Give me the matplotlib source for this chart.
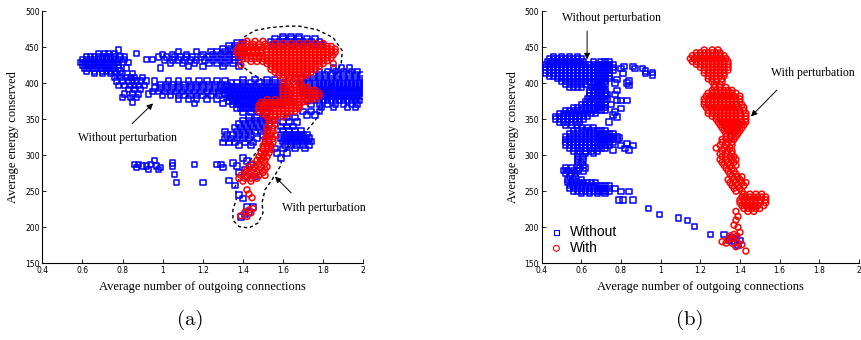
"""
Energy conserved vs outgoing connections, with / without perturbation
(two scatter panels)
"""

import matplotlib
matplotlib.use('Agg')
import matplotlib.pyplot as plt
from matplotlib.ticker import FuncFormatter


# DATA : rows of (y, [x, x, ...])

# panel (a) - without perturbation
a_without = [
    # left cluster
    (446, [0.78]),
    (441, [0.68, 0.71, 0.73, 0.76, 0.87]),
    (437, [0.62, 0.64, 0.66, 0.68, 0.70, 0.72, 0.74, 0.76, 0.79, 0.81]),
    (433, [0.60, 0.62, 0.64, 0.66, 0.68, 0.70, 0.72, 0.74, 0.76, 0.78, 0.81, 0.92, 0.95]),
    (429, [0.59, 0.61, 0.63, 0.65, 0.67, 0.69, 0.71, 0.73, 0.75, 0.77, 0.80, 0.83]),
    (425, [0.60, 0.62, 0.64, 0.66, 0.68, 0.70, 0.72, 0.74, 0.76, 0.78]),
    (421, [0.61, 0.63, 0.65, 0.67, 0.69, 0.71, 0.73, 0.75, 0.78, 0.82, 0.99]),
    (417, [0.62, 0.66, 0.70, 0.72, 0.74, 0.76, 0.79]),
    (413, [0.66, 0.70, 0.74, 0.77, 0.80, 0.85]),
    (408, [0.76, 0.79, 0.82, 0.84, 0.86, 0.90]),
    (403, [0.77, 0.80, 0.83, 0.85, 0.87, 0.89, 0.92, 0.96]),
    (397, [0.78, 0.81, 0.84, 0.86, 0.88, 0.91]),
    (391, [0.83, 0.86, 0.89]),
    (385, [0.81, 0.85, 0.88, 0.93]),
    (380, [0.80, 0.84, 0.87]),
    (374, [0.85]),
    # upper band
    (456, [1.37, 1.40]),
    (452, [1.33, 1.36, 1.39]),
    (448, [1.30, 1.34, 1.37, 1.40]),
    (444, [1.08, 1.17, 1.24, 1.27, 1.31, 1.35, 1.38]),
    (440, [1.00, 1.05, 1.12, 1.20, 1.25, 1.29, 1.33, 1.36, 1.39]),
    (436, [0.98, 1.02, 1.06, 1.09, 1.12, 1.15, 1.19, 1.23, 1.27, 1.31, 1.35, 1.38]),
    (432, [1.01, 1.05, 1.08, 1.11, 1.14, 1.17, 1.21, 1.25, 1.29, 1.33, 1.36]),
    (428, [1.04, 1.10, 1.16, 1.23, 1.27, 1.31, 1.35]),
    (423, [1.13, 1.20, 1.30, 1.38]),
    # middle band
    (403, [1.03, 1.08, 1.13, 1.18, 1.22, 1.27, 1.31]),
    (398, [0.99, 1.02, 1.05, 1.08, 1.11, 1.14, 1.17, 1.20, 1.23, 1.26, 1.29, 1.32]),
    (393, [0.96, 0.99, 1.02, 1.05, 1.08, 1.11, 1.14, 1.17, 1.20, 1.23, 1.26, 1.29]),
    (388, [0.95, 0.98, 1.01, 1.04, 1.07, 1.10, 1.13, 1.16, 1.19, 1.22, 1.25, 1.28]),
    (383, [1.00, 1.04, 1.08, 1.11, 1.14, 1.17, 1.20, 1.24, 1.28]),
    (378, [1.08, 1.13, 1.17, 1.22, 1.27]),
    (372, [1.16, 1.30]),
    # dense centre
    (405, [1.40, 1.46, 1.52, 1.56]),
    (400, [1.34, 1.37, 1.40, 1.44, 1.48, 1.52, 1.56, 1.60]),
    (395, [1.31, 1.33, 1.35, 1.37, 1.39, 1.41, 1.43, 1.45, 1.47, 1.49, 1.51, 1.53, 1.55, 1.57, 1.59, 1.61]),
    (390, [1.30, 1.32, 1.34, 1.36, 1.38, 1.40, 1.42, 1.44, 1.46, 1.48, 1.50, 1.52, 1.54, 1.56, 1.58, 1.60, 1.62]),
    (385, [1.31, 1.33, 1.35, 1.37, 1.39, 1.41, 1.43, 1.45, 1.47, 1.49, 1.51, 1.53, 1.55, 1.57, 1.59, 1.61, 1.63]),
    (380, [1.32, 1.34, 1.36, 1.38, 1.40, 1.42, 1.44, 1.46, 1.48, 1.50, 1.52, 1.54, 1.56, 1.58, 1.60, 1.62]),
    (375, [1.33, 1.35, 1.37, 1.39, 1.41, 1.43, 1.45, 1.47, 1.49, 1.51, 1.53, 1.55, 1.57, 1.59, 1.61]),
    (370, [1.35, 1.37, 1.39, 1.41, 1.43, 1.45, 1.47, 1.49, 1.51, 1.53, 1.55, 1.57, 1.59]),
    (365, [1.37, 1.39, 1.41, 1.43, 1.45, 1.47, 1.49, 1.51, 1.53]),
    (360, [1.40, 1.44, 1.48, 1.52]),
    # right cluster
    (421, [1.85, 1.89, 1.93]),
    (416, [1.78, 1.82, 1.86, 1.90, 1.94, 1.97]),
    (411, [1.72, 1.75, 1.78, 1.81, 1.84, 1.87, 1.90, 1.93, 1.96, 1.99]),
    (406, [1.66, 1.69, 1.72, 1.75, 1.78, 1.81, 1.84, 1.87, 1.90, 1.93, 1.96, 1.99]),
    (401, [1.70, 1.73, 1.76, 1.78, 1.80, 1.82, 1.84, 1.86, 1.88, 1.90, 1.92, 1.94, 1.96, 1.98, 2.00]),
    (396, [1.70, 1.73, 1.76, 1.78, 1.80, 1.82, 1.84, 1.86, 1.88, 1.90, 1.92, 1.94, 1.96, 1.98, 2.00]),
    (391, [1.71, 1.74, 1.77, 1.79, 1.81, 1.83, 1.85, 1.87, 1.89, 1.91, 1.93, 1.95, 1.97, 1.99]),
    (386, [1.70, 1.73, 1.76, 1.78, 1.80, 1.82, 1.84, 1.86, 1.88, 1.90, 1.92, 1.94, 1.96, 1.98, 2.00]),
    (381, [1.71, 1.74, 1.77, 1.79, 1.81, 1.83, 1.85, 1.87, 1.89, 1.91, 1.93, 1.95, 1.97, 1.99]),
    (376, [1.72, 1.75, 1.78, 1.80, 1.82, 1.84, 1.86, 1.88, 1.90, 1.92, 1.94, 1.96, 1.98]),
    (371, [1.74, 1.78, 1.82, 1.86, 1.90, 1.94, 1.97]),
    (366, [1.79, 1.85, 1.92, 1.96]),
    (361, [1.70, 1.74, 1.78]),
    (356, [1.72, 1.76]),
    # above the red cloud
    (465, [1.60, 1.64, 1.68]),
    (461, [1.56, 1.60, 1.64, 1.68, 1.72, 1.76]),
    (457, [1.54, 1.58, 1.62, 1.66, 1.70, 1.74, 1.78]),
    (453, [1.55, 1.60, 1.65, 1.70, 1.75, 1.79]),
    # lower middle
    (353, [1.43, 1.47, 1.51]),
    (348, [1.40, 1.43, 1.46, 1.49, 1.52, 1.56]),
    (343, [1.38, 1.41, 1.44, 1.47, 1.50, 1.53]),
    (338, [1.36, 1.39, 1.42, 1.45, 1.48, 1.51]),
    (333, [1.31, 1.37, 1.40, 1.43, 1.46, 1.49]),
    (328, [1.32, 1.35, 1.38, 1.41, 1.44, 1.50]),
    (323, [1.31, 1.34, 1.37, 1.40, 1.43, 1.47]),
    (318, [1.30, 1.33, 1.36, 1.41, 1.45]),
    (313, [1.38, 1.44]),
    # lower right
    (352, [1.62, 1.66]),
    (346, [1.60, 1.63, 1.67]),
    (340, [1.59, 1.62, 1.65]),
    (334, [1.60, 1.63, 1.66, 1.69]),
    (329, [1.59, 1.62, 1.64, 1.66, 1.68, 1.70, 1.72]),
    (324, [1.59, 1.61, 1.63, 1.65, 1.67, 1.69, 1.71, 1.73]),
    (319, [1.60, 1.62, 1.64, 1.66, 1.68, 1.70, 1.72, 1.74]),
    (314, [1.61, 1.64, 1.67, 1.70, 1.73]),
    (309, [1.56, 1.60, 1.66, 1.71]),
    (303, [1.57, 1.62]),
    (296, [1.59, 1.40]),
    # scattered low points
    (293, [0.96]),
    (292, [1.42]),
    (289, [1.05, 1.35]),
    (287, [0.86, 0.88, 0.94, 1.16, 1.27, 1.29, 1.44]),
    (285, [0.90, 0.92, 0.97, 1.05, 1.37]),
    (283, [0.87, 0.99, 1.30]),
    (280, [0.93, 0.98, 1.41]),
    (276, [1.38, 1.44]),
    (273, [1.06]),
    (270, [1.42, 1.46]),
    (265, [1.33]),
    (262, [1.07, 1.20]),
    (258, [1.36]),
    (245, [1.38]),
    (240, [1.40]),
    (228, [1.42, 1.45]),
    (221, [1.43]),
    (218, [1.41]),
    (214, [1.39]),
]

# panel (a) - with perturbation
a_with = [
    (458, [1.42, 1.46, 1.50]),
    (454, [1.39, 1.42, 1.45, 1.48, 1.51]),
    (450, [1.38, 1.40, 1.42, 1.44, 1.46, 1.48, 1.50]),
    (446, [1.37, 1.39, 1.41, 1.43, 1.45, 1.47, 1.49]),
    (442, [1.37, 1.39, 1.41, 1.43, 1.45, 1.47, 1.49]),
    (438, [1.38, 1.40, 1.42, 1.44, 1.46, 1.48, 1.50]),
    (434, [1.40, 1.42, 1.44, 1.46, 1.48, 1.50]),
    (430, [1.44, 1.47, 1.50]),
    (425, [1.39]),
    (455, [1.56, 1.60, 1.64, 1.68, 1.72, 1.76, 1.80]),
    (451, [1.52, 1.54, 1.56, 1.58, 1.60, 1.62, 1.64, 1.66, 1.68, 1.70, 1.72, 1.74, 1.76, 1.78, 1.80, 1.82, 1.84]),
    (447, [1.52, 1.54, 1.56, 1.58, 1.60, 1.62, 1.64, 1.66, 1.68, 1.70, 1.72, 1.74, 1.76, 1.78, 1.80, 1.82, 1.84, 1.86]),
    (443, [1.52, 1.54, 1.56, 1.58, 1.60, 1.62, 1.64, 1.66, 1.68, 1.70, 1.72, 1.74, 1.76, 1.78, 1.80, 1.82, 1.84, 1.86]),
    (439, [1.52, 1.54, 1.56, 1.58, 1.60, 1.62, 1.64, 1.66, 1.68, 1.70, 1.72, 1.74, 1.76, 1.78, 1.80, 1.82, 1.85]),
    (435, [1.52, 1.54, 1.56, 1.58, 1.60, 1.62, 1.64, 1.66, 1.68, 1.70, 1.72, 1.74, 1.76, 1.78, 1.80, 1.82, 1.84]),
    (431, [1.52, 1.54, 1.56, 1.58, 1.60, 1.62, 1.64, 1.66, 1.68, 1.70, 1.72, 1.74, 1.76, 1.78, 1.80, 1.82]),
    (427, [1.52, 1.54, 1.56, 1.58, 1.60, 1.62, 1.64, 1.66, 1.68, 1.70, 1.72, 1.74, 1.76, 1.78, 1.80, 1.85]),
    (423, [1.54, 1.56, 1.58, 1.60, 1.62, 1.64, 1.66, 1.68, 1.70, 1.72, 1.74, 1.76, 1.78]),
    (419, [1.54, 1.56, 1.58, 1.60, 1.62, 1.64, 1.66, 1.68, 1.70, 1.72, 1.74, 1.76]),
    (415, [1.56, 1.58, 1.60, 1.62, 1.64, 1.66, 1.68, 1.70, 1.72, 1.74]),
    (411, [1.58, 1.60, 1.62, 1.64, 1.66, 1.68, 1.70, 1.72]),
    (407, [1.60, 1.63, 1.66, 1.69]),
    (402, [1.62, 1.65, 1.68]),
    (398, [1.60, 1.63, 1.66, 1.69]),
    (394, [1.60, 1.62, 1.64, 1.66, 1.68, 1.70, 1.72]),
    (390, [1.60, 1.62, 1.64, 1.66, 1.68, 1.70, 1.72, 1.74, 1.76]),
    (386, [1.60, 1.62, 1.64, 1.66, 1.68, 1.70, 1.72, 1.74, 1.76, 1.78]),
    (382, [1.60, 1.62, 1.64, 1.66, 1.68, 1.70, 1.72, 1.74, 1.76, 1.78]),
    (378, [1.60, 1.62, 1.64, 1.66, 1.68, 1.70, 1.72, 1.74, 1.76]),
    (374, [1.62, 1.64, 1.66, 1.68, 1.70, 1.72]),
    (370, [1.64, 1.68]),
    (377, [1.52, 1.56, 1.60]),
    (373, [1.49, 1.51, 1.53, 1.55, 1.57, 1.59, 1.61, 1.63, 1.65]),
    (369, [1.48, 1.50, 1.52, 1.54, 1.56, 1.58, 1.60, 1.62, 1.64, 1.66, 1.68]),
    (365, [1.48, 1.50, 1.52, 1.54, 1.56, 1.58, 1.60, 1.62, 1.64, 1.66, 1.68]),
    (361, [1.48, 1.50, 1.52, 1.54, 1.56, 1.58, 1.60, 1.62, 1.64, 1.66]),
    (357, [1.50, 1.52, 1.54, 1.56, 1.58, 1.60, 1.62]),
    (353, [1.52, 1.56, 1.60]),
    (348, [1.53, 1.55]),
    (343, [1.53, 1.56]),
    (338, [1.52, 1.55]),
    (333, [1.52, 1.55]),
    (328, [1.52, 1.54, 1.56]),
    (323, [1.51, 1.53, 1.55]),
    (318, [1.51, 1.53, 1.55]),
    (313, [1.50, 1.52, 1.54]),
    (308, [1.50, 1.52, 1.54]),
    (303, [1.49, 1.51, 1.53]),
    (298, [1.48, 1.50, 1.52]),
    (293, [1.47, 1.49, 1.51]),
    (288, [1.45, 1.48, 1.51]),
    (284, [1.43, 1.46, 1.49, 1.52]),
    (280, [1.42, 1.45, 1.48, 1.51]),
    (276, [1.41, 1.44, 1.47, 1.50]),
    (272, [1.39, 1.42, 1.45, 1.48, 1.51]),
    (268, [1.38, 1.41, 1.44, 1.47]),
    (264, [1.40, 1.44]),
    (252, [1.42]),
    (246, [1.43]),
    (241, [1.445]),
    (226, [1.45]),
    (224, [1.43]),
    (221, [1.41]),
    (220, [1.44]),
    (216, [1.39]),
    (215, [1.42]),
]

# panel (b) - without perturbation
b_without = [
    (437, [0.46, 0.50, 0.54, 0.58]),
    (434, [0.44, 0.46, 0.48, 0.50, 0.52, 0.54, 0.56, 0.58, 0.60]),
    (430, [0.43, 0.45, 0.47, 0.49, 0.51, 0.53, 0.55, 0.57, 0.59, 0.61, 0.66, 0.70, 0.72, 0.74]),
    (426, [0.42, 0.44, 0.46, 0.48, 0.50, 0.52, 0.54, 0.56, 0.58, 0.60, 0.62, 0.64, 0.66, 0.68, 0.70, 0.72, 0.74, 0.76]),
    (422, [0.42, 0.44, 0.46, 0.48, 0.50, 0.52, 0.54, 0.56, 0.58, 0.60, 0.62, 0.64, 0.66, 0.68, 0.70, 0.72, 0.74, 0.76]),
    (418, [0.42, 0.44, 0.46, 0.48, 0.50, 0.52, 0.54, 0.56, 0.58, 0.60, 0.62, 0.64, 0.66, 0.68, 0.70, 0.72, 0.74, 0.76]),
    (414, [0.42, 0.44, 0.46, 0.48, 0.50, 0.52, 0.54, 0.56, 0.58, 0.60, 0.62, 0.64, 0.66, 0.68, 0.70, 0.72, 0.74]),
    (410, [0.44, 0.46, 0.48, 0.50, 0.52, 0.54, 0.56, 0.58, 0.60, 0.62, 0.64, 0.66, 0.68, 0.70, 0.72, 0.74]),
    (406, [0.48, 0.50, 0.52, 0.54, 0.56, 0.58, 0.60, 0.62, 0.64, 0.66, 0.68, 0.70, 0.72, 0.74]),
    (402, [0.50, 0.52, 0.54, 0.56, 0.58, 0.60, 0.62, 0.64, 0.66, 0.68, 0.70, 0.72]),
    (398, [0.52, 0.54, 0.56, 0.58, 0.60, 0.62, 0.66, 0.68, 0.70, 0.72]),
    (394, [0.54, 0.56, 0.58, 0.60, 0.65, 0.67, 0.69, 0.71]),
    (390, [0.64, 0.66, 0.68, 0.70, 0.72]),
    (386, [0.64, 0.66, 0.68, 0.70, 0.72]),
    (382, [0.64, 0.66, 0.68, 0.70, 0.72]),
    (378, [0.63, 0.65, 0.67, 0.69, 0.71, 0.73]),
    (374, [0.62, 0.64, 0.66, 0.68, 0.70, 0.72]),
    (370, [0.60, 0.62, 0.64, 0.66, 0.68, 0.70, 0.72]),
    (366, [0.56, 0.58, 0.60, 0.62, 0.64, 0.66, 0.68, 0.70, 0.72]),
    (362, [0.52, 0.54, 0.56, 0.58, 0.60, 0.62, 0.64, 0.66, 0.68, 0.70, 0.72]),
    (358, [0.49, 0.51, 0.53, 0.55, 0.57, 0.59, 0.61, 0.63, 0.65, 0.67]),
    (354, [0.47, 0.49, 0.51, 0.53, 0.55, 0.57, 0.59, 0.61, 0.63]),
    (350, [0.47, 0.49, 0.51, 0.53, 0.55, 0.57, 0.59, 0.61]),
    (346, [0.49, 0.51, 0.53, 0.55, 0.57, 0.59]),
    (342, [0.52, 0.55, 0.58]),
    (338, [0.60, 0.63, 0.66]),
    (334, [0.56, 0.58, 0.60, 0.62, 0.64, 0.66, 0.68, 0.70, 0.72]),
    (330, [0.54, 0.56, 0.58, 0.60, 0.62, 0.64, 0.66, 0.68, 0.70, 0.72, 0.74, 0.76]),
    (326, [0.52, 0.54, 0.56, 0.58, 0.60, 0.62, 0.64, 0.66, 0.68, 0.70, 0.72, 0.74, 0.76, 0.78]),
    (322, [0.52, 0.54, 0.56, 0.58, 0.60, 0.62, 0.64, 0.66, 0.68, 0.70, 0.72, 0.74, 0.76, 0.78]),
    (318, [0.52, 0.54, 0.56, 0.58, 0.60, 0.62, 0.64, 0.66, 0.68, 0.70, 0.72, 0.74, 0.76]),
    (314, [0.52, 0.54, 0.56, 0.58, 0.60, 0.62, 0.64, 0.66, 0.68, 0.70, 0.72, 0.74]),
    (310, [0.54, 0.56, 0.58, 0.60, 0.62, 0.64, 0.66, 0.68, 0.70, 0.72]),
    (306, [0.56, 0.59, 0.62, 0.65, 0.68]),
    (302, [0.58, 0.62, 0.66]),
    (298, [0.58, 0.61]),
    (294, [0.58, 0.61]),
    (290, [0.58, 0.60]),
    (286, [0.58, 0.61]),
    (282, [0.59, 0.62]),
    (278, [0.58, 0.61]),
    (283, [0.52, 0.55]),
    (279, [0.51, 0.53, 0.56]),
    (275, [0.52, 0.55, 0.57]),
    (271, [0.54, 0.57]),
    (266, [0.53, 0.56, 0.60]),
    (262, [0.53, 0.55, 0.57, 0.59, 0.61, 0.63, 0.65, 0.67]),
    (258, [0.54, 0.56, 0.58, 0.60, 0.62, 0.64, 0.66, 0.68, 0.70, 0.72, 0.74]),
    (254, [0.54, 0.56, 0.58, 0.60, 0.62, 0.64, 0.66, 0.68, 0.70, 0.72, 0.74, 0.77]),
    (250, [0.56, 0.58, 0.60, 0.62, 0.64, 0.66, 0.68, 0.70, 0.72, 0.74, 0.80, 0.84]),
    (247, [0.60, 0.64, 0.68, 0.72]),
    # scattered points
    (423, [0.815, 0.86]),
    (420, [0.80, 0.87, 0.91]),
    (417, [0.925]),
    (415, [0.96]),
    (413, [0.925, 0.81]),
    (411, [0.96]),
    (405, [0.78]),
    (403, [0.84]),
    (400, [0.77, 0.83]),
    (397, [0.84]),
    (390, [0.78]),
    (384, [0.77, 0.73]),
    (376, [0.78, 0.80, 0.83]),
    (370, [0.75]),
    (365, [0.80]),
    (360, [0.77]),
    (356, [0.76]),
    (353, [0.78]),
    (346, [0.74]),
    (324, [0.79]),
    (316, [0.83]),
    (313, [0.80, 0.86]),
    (309, [0.82]),
    (307, [0.84, 0.76]),
    (238, [0.79, 0.81, 0.86]),
    (226, [0.94]),
    (218, [0.995]),
    (213, [1.09]),
    (209, [1.135]),
    (201, [1.17]),
    (190, [1.25, 1.32]),
    (186, [1.36]),
    (184, [1.35, 1.38]),
    (182, [1.345, 1.40]),
    (181, [1.37]),
    (175, [1.39]),
]

# panel (b) - with perturbation
b_with = [
    (446, [1.22, 1.26, 1.29]),
    (442, [1.18, 1.20, 1.22, 1.24, 1.26, 1.28, 1.30]),
    (438, [1.16, 1.18, 1.20, 1.22, 1.24, 1.26, 1.28, 1.30, 1.32]),
    (434, [1.15, 1.17, 1.19, 1.21, 1.23, 1.25, 1.27, 1.29, 1.31, 1.33]),
    (430, [1.16, 1.18, 1.20, 1.22, 1.24, 1.26, 1.28, 1.30, 1.32, 1.34]),
    (426, [1.18, 1.20, 1.22, 1.24, 1.26, 1.28, 1.30, 1.32, 1.34]),
    (422, [1.20, 1.22, 1.24, 1.26, 1.28, 1.30, 1.32, 1.34]),
    (418, [1.22, 1.24, 1.26, 1.28, 1.30, 1.32, 1.34]),
    (414, [1.22, 1.24, 1.26, 1.28, 1.30, 1.32]),
    (410, [1.24, 1.26, 1.28, 1.30, 1.32]),
    (406, [1.24, 1.26, 1.28, 1.31]),
    (402, [1.26, 1.28, 1.31]),
    (398, [1.27, 1.30]),
    (394, [1.27, 1.30, 1.33]),
    (390, [1.26, 1.28, 1.30, 1.32, 1.34, 1.36]),
    (386, [1.24, 1.26, 1.28, 1.30, 1.32, 1.34, 1.36, 1.38]),
    (382, [1.23, 1.25, 1.27, 1.29, 1.31, 1.33, 1.35, 1.37, 1.40]),
    (378, [1.22, 1.24, 1.26, 1.28, 1.30, 1.32, 1.34, 1.36, 1.38, 1.40]),
    (374, [1.22, 1.24, 1.26, 1.28, 1.30, 1.32, 1.34, 1.36, 1.38, 1.40]),
    (370, [1.22, 1.24, 1.26, 1.28, 1.30, 1.32, 1.34, 1.36, 1.38, 1.41]),
    (366, [1.23, 1.25, 1.27, 1.29, 1.31, 1.33, 1.35, 1.37, 1.39, 1.42]),
    (362, [1.24, 1.26, 1.28, 1.30, 1.32, 1.34, 1.36, 1.38, 1.40, 1.42]),
    (358, [1.24, 1.26, 1.28, 1.30, 1.32, 1.34, 1.36, 1.38, 1.40, 1.43]),
    (354, [1.26, 1.28, 1.30, 1.32, 1.34, 1.36, 1.38, 1.40, 1.43]),
    (350, [1.28, 1.30, 1.32, 1.34, 1.36, 1.38, 1.40, 1.43]),
    (346, [1.29, 1.31, 1.33, 1.35, 1.37, 1.39, 1.41, 1.43]),
    (342, [1.30, 1.32, 1.34, 1.36, 1.38, 1.40, 1.42]),
    (338, [1.31, 1.33, 1.35, 1.37, 1.39, 1.41]),
    (334, [1.32, 1.34, 1.36, 1.38, 1.40]),
    (330, [1.33, 1.35, 1.37, 1.39]),
    (326, [1.33, 1.36, 1.38]),
    (322, [1.31, 1.33, 1.35, 1.37]),
    (318, [1.31, 1.34, 1.36]),
    (314, [1.30, 1.33, 1.36]),
    (310, [1.28, 1.32, 1.35]),
    (306, [1.31, 1.34, 1.36]),
    (302, [1.30, 1.33, 1.36]),
    (298, [1.31, 1.33, 1.35, 1.37]),
    (294, [1.30, 1.33, 1.36, 1.38]),
    (290, [1.31, 1.34, 1.37]),
    (286, [1.32, 1.35, 1.38]),
    (282, [1.33, 1.36]),
    (278, [1.34, 1.37]),
    (274, [1.35, 1.38]),
    (270, [1.36, 1.39, 1.41]),
    (266, [1.34, 1.37, 1.40]),
    (262, [1.35, 1.38, 1.41, 1.43]),
    (258, [1.36, 1.39, 1.42]),
    (254, [1.37, 1.40]),
    (250, [1.38, 1.41]),
    (246, [1.42, 1.45, 1.48, 1.51]),
    (242, [1.41, 1.43, 1.45, 1.47, 1.49, 1.51, 1.53]),
    (238, [1.40, 1.42, 1.44, 1.46, 1.48, 1.50, 1.53]),
    (234, [1.40, 1.42, 1.44, 1.46, 1.48, 1.50, 1.53]),
    (230, [1.41, 1.43, 1.45, 1.47, 1.49, 1.52]),
    (226, [1.42, 1.44, 1.46, 1.48, 1.50]),
    (222, [1.38, 1.44, 1.47]),
    (215, [1.39]),
    (210, [1.38]),
    (203, [1.37]),
    (200, [1.39]),
    (193, [1.40]),
    (190, [1.37]),
    (188, [1.385, 1.35]),
    (185, [1.36]),
    (183, [1.34]),
    (180, [1.31]),
    (178, [1.33, 1.36, 1.39]),
    (176, [1.41]),
    (173, [1.38]),
    (167, [1.43]),
]

# hand-drawn dashed outline around the perturbed runs in (a)
loop_x = [1.50, 1.44, 1.39, 1.38, 1.40, 1.46, 1.535, 1.62, 1.68, 1.77, 1.85, 1.895, 1.89,
          1.86, 1.83, 1.80, 1.76, 1.72, 1.65, 1.60, 1.585, 1.545, 1.51, 1.495, 1.50, 1.475,
          1.43, 1.38, 1.35, 1.35, 1.37, 1.36, 1.385, 1.425, 1.475, 1.51, 1.53]
loop_y = [404, 414, 425, 445, 463, 473, 477, 479, 479, 474, 463, 445, 428,
          410, 390, 368, 348, 335, 318, 300, 284, 266, 252, 234, 220, 206,
          199, 201, 210, 224, 242, 256, 270, 289, 307, 320, 340]

xticks = [0.4, 0.6, 0.8, 1.0, 1.2, 1.4, 1.6, 1.8, 2.0]
yticks = [150, 200, 250, 300, 350, 400, 450, 500]


def unpack(rows):
    xs, ys = [], []
    for y, row in rows:
        xs += row
        ys += [y] * len(row)
    return xs, ys


serif = 'Liberation Serif'
fig = plt.figure(figsize=(8.62, 3.40), dpi=100)
ax_a = fig.add_axes([0.0491, 0.2256, 0.3724, 0.742])
ax_b = fig.add_axes([0.6284, 0.2256, 0.3680, 0.742])

for ax, wo, wi in [(ax_a, a_without, a_with), (ax_b, b_without, b_with)]:
    x0, y0 = unpack(wo)
    x1, y1 = unpack(wi)
    ax.scatter(x0, y0, s=15, marker='s', facecolors='none', edgecolors='#0000ff',
               linewidths=1.1, label='Without', zorder=3)
    ax.scatter(x1, y1, s=18, marker='o', facecolors='none', edgecolors='#ff0000',
               linewidths=1.1, label='With', zorder=4)
    ax.set_xlim(0.4, 2.0)
    ax.set_ylim(150, 500)
    ax.set_xticks(xticks)
    ax.set_yticks(yticks)
    ax.xaxis.set_major_formatter(FuncFormatter(lambda v, p: '%g' % v))
    ax.tick_params(direction='in', length=3, width=0.6, labelsize=5.5, pad=2)
    for s in ['top', 'right']:
        ax.spines[s].set_visible(False)
    for s in ['left', 'bottom']:
        ax.spines[s].set_linewidth(0.8)
    ax.set_xlabel('Average number of outgoing connections', family=serif, fontsize=9, labelpad=4)
    ax.set_ylabel('Average energy conserved', family=serif, fontsize=9, labelpad=4)

# (a) annotations
ax_a.plot(loop_x, loop_y, color='k', lw=1.0, ls=(0, (2.5, 2)), zorder=2)
arr = dict(arrowstyle='-|>', color='k', lw=0.7, mutation_scale=9)
ax_a.annotate('', xy=(0.962, 374.5), xytext=(0.837, 341), arrowprops=arr)
ax_a.text(0.825, 324, 'Without perturbation', family=serif, fontsize=8.5, ha='center', va='center')
ax_a.annotate('', xy=(1.55, 273), xytext=(1.65, 245), arrowprops=arr)
ax_a.text(1.805, 226.5, 'With perturbation', family=serif, fontsize=8.5, ha='center', va='center')

# (b) annotations
ax_b.annotate('', xy=(0.629, 429), xytext=(0.629, 476), arrowprops=arr)
ax_b.text(0.753, 490, 'Without perturbation', family=serif, fontsize=8.5, ha='center', va='center')
ax_b.annotate('', xy=(1.446, 351), xytext=(1.596, 393), arrowprops=arr)
ax_b.text(1.766, 414.5, 'With perturbation', family=serif, fontsize=8.5, ha='center', va='center',
          clip_on=False)
leg = ax_b.legend(loc='lower left', bbox_to_anchor=(-0.015, 0.0), frameon=False, markerscale=1.0,
                  prop={'family': 'Liberation Sans', 'size': 10}, handletextpad=0.2,
                  handlelength=1.6, labelspacing=0.15, borderaxespad=0.2)
for h in leg.legend_handles:
    h.set_linewidth(0.8)

fig.text(0.2212, 0.06, '(a)', family='cmr10', fontsize=15, ha='center', va='center')
fig.text(0.8005, 0.06, '(b)', family='cmr10', fontsize=15, ha='center', va='center')

fig.savefig('out.png', dpi=100)
